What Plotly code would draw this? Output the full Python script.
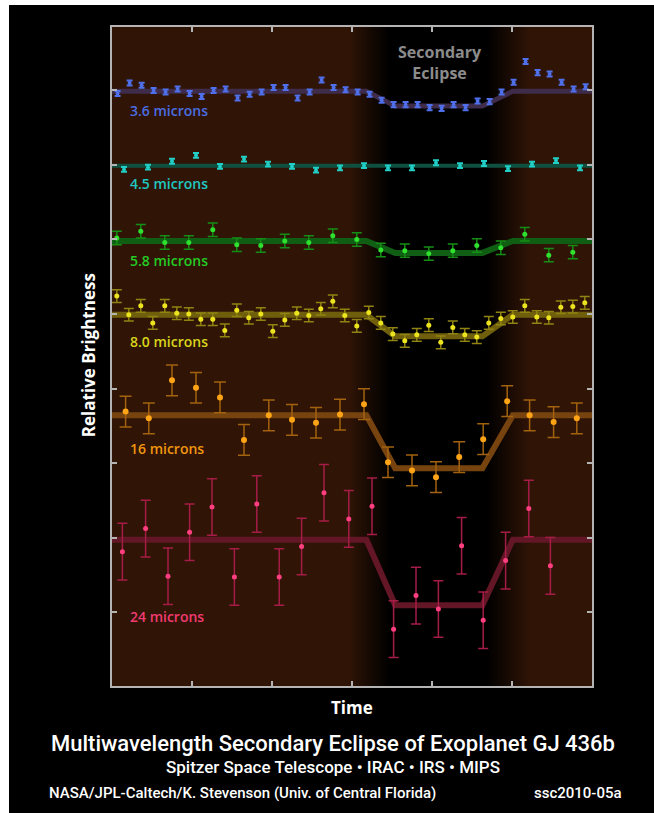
import plotly.graph_objects as go

# ---------------- data (relative brightness, series offset for display) ----------------
t36 = [0.7, 2.2, 3.7, 5.2, 6.7, 8.2, 9.7, 11.2, 12.7, 14.2, 15.7, 17.2, 18.7, 20.2, 21.7,
       23.2, 24.7, 26.2, 27.7, 29.2, 30.7, 32.2, 33.7, 35.2, 36.7, 38.2, 39.7, 41.2, 42.7,
       44.2, 45.7, 47.2, 48.7, 50.2, 51.7, 53.2, 54.7, 56.2, 57.7, 59.2]
y36 = [6.96, 7.10, 7.07, 7.00, 6.98, 7.02, 6.96, 6.92, 7.00, 7.02, 6.90, 6.95, 6.98, 7.04,
       7.04, 6.90, 6.98, 7.14, 7.04, 7.01, 6.98, 6.95, 6.87, 6.81, 6.81, 6.81, 6.77, 6.76,
       6.81, 6.77, 6.86, 6.85, 6.98, 7.11, 7.39, 7.24, 7.22, 7.11, 7.02, 7.05]

t45 = [1.5, 4.5, 7.5, 10.5, 13.5, 16.5, 19.5, 22.5, 25.5, 28.5, 31.5, 34.5, 37.5, 40.5,
       43.5, 46.5, 49.5, 52.5, 55.5, 58.5]
y45 = [5.94, 5.97, 6.05, 6.13, 5.98, 6.08, 6.01, 5.98, 5.93, 5.96, 5.99, 5.96, 5.96, 6.03,
       5.99, 6.02, 5.95, 6.01, 6.06, 5.96]

t58 = [0.6, 3.6, 6.6, 9.6, 12.6, 15.6, 18.6, 21.6, 24.6, 27.6, 30.6, 33.6, 36.6, 39.6,
       42.6, 45.6, 48.6, 51.6, 54.6, 57.6]
y58 = [5.02, 5.11, 4.96, 4.96, 5.13, 4.93, 4.92, 4.98, 4.96, 5.05, 5.00, 4.86, 4.85, 4.81,
       4.85, 4.92, 4.89, 5.07, 4.79, 4.83]

t80 = [0.6, 2.1, 3.6, 5.1, 6.6, 8.1, 9.6, 11.1, 12.6, 14.1, 15.6, 17.1, 18.6, 20.1, 21.6,
       23.1, 24.6, 26.1, 27.6, 29.1, 30.6, 32.1, 33.6, 35.1, 36.6, 38.1, 39.6, 41.1, 42.6,
       44.1, 45.6, 47.1, 48.6, 50.1, 51.6, 53.1, 54.6, 56.1, 57.6, 59.1]
y80 = [4.24, 3.99, 4.11, 3.88, 4.11, 4.01, 4.00, 3.93, 3.93, 3.78, 4.05, 3.95, 4.00, 3.77,
       3.92, 4.01, 3.98, 4.07, 4.17, 3.98, 3.84, 4.02, 3.88, 3.73, 3.64, 3.72, 3.85, 3.62,
       3.82, 3.72, 3.69, 3.88, 3.94, 3.96, 4.11, 3.96, 3.95, 4.09, 4.10, 4.15]

t16 = [1.7, 4.6, 7.5, 10.5, 13.5, 16.5, 19.6, 22.5, 25.5, 28.5, 31.5, 34.5, 37.5, 40.5,
       43.4, 46.4, 49.4, 52.2, 55.2, 58.1]
y16 = [2.69, 2.60, 3.11, 3.01, 2.88, 2.31, 2.64, 2.58, 2.54, 2.65, 2.79, 2.01, 1.90, 1.81,
       2.08, 2.32, 2.83, 2.64, 2.55, 2.60]

t24 = [1.3, 4.2, 7.0, 9.7, 12.5, 15.3, 18.1, 20.9, 23.7, 26.5, 29.6, 32.5, 35.2, 38.0,
       40.8, 43.7, 46.4, 49.2, 52.1, 54.8]
y24 = [0.81, 1.12, 0.48, 1.07, 1.41, 0.47, 1.45, 0.47, 0.88, 1.60, 1.25, 1.42, -0.23, 0.22,
       0.04, 0.89, -0.11, 0.69, 1.39, 0.62]

series_names = ["3.6 microns", "4.5 microns", "5.8 microns", "8.0 microns", "16 microns", "24 microns"]
errors = [0.034, 0.032, 0.09, 0.085, 0.206, 0.38]
baselines = [6.99, 5.99, 4.98, 3.99, 2.64, 0.97]
eclipse_levels = [6.79, 5.99, 4.82, 3.70, 1.93, 0.09]
contacts = [31.8, 35.4, 46.3, 50.1]          # ingress start/end, egress start/end
label_y = [6.73, 5.75, 4.72, 3.63, 2.20, -0.06]
time_range = [0, 60]
time_ticks = [10, 20, 30, 40, 50]
bright_ticks = [0, 1, 2, 3, 4, 5, 6, 7]
shade_x = [0, 29.5, 34.5, 46.8, 52.2, 60]     # eclipse shading stops
shade_z = [0, 0, 1, 1, 0, 0]

title_text = "Multiwavelength Secondary Eclipse of Exoplanet GJ 436b"
subtitle_text = "Spitzer Space Telescope • IRAC • IRS • MIPS"
credit_text = "NASA/JPL-Caltech/K. Stevenson (Univ. of Central Florida)"
id_text = "ssc2010-05a"

# ---------------- styles ----------------
marker_colors = ["#4f70ea", "#22cfc6", "#2fe02f", "#ece41e", "#ffa416", "#ff3f80"]
bar_colors = ["#4f70ea", "#22cfc6", "#158e15", "#8f8412", "#a2620e", "#a51d47"]
line_colors = ["#3e2c4a", "#0f5140", "#0f5e13", "#6f5f0c", "#774410", "#621626"]
label_colors = ["#4a6ee2", "#1fc8c0", "#24cc24", "#d8d41c", "#f0960f", "#f03a70"]
line_widths = [5, 4, 6, 6, 6, 6]
marker_sizes = [4, 4, 5, 5, 6, 5]
bar_widths = [3, 3, 5, 5, 6, 5]
bar_thick = [2, 2, 1.5, 1.5, 1.5, 1.5]

BG = "#301406"
FRAME = "#b4b4b4"

times = [t36, t45, t58, t80, t16, t24]
values = [y36, y45, y58, y80, y16, y24]

fig = go.Figure()

# eclipse shading background
fig.add_trace(go.Heatmap(
    x=shade_x, y=[-1.5, 8.5], z=[shade_z, shade_z], zsmooth="best",
    colorscale=[[0, BG], [1, "#000000"]], showscale=False, hoverinfo="skip",
))

for i in range(6):
    b, e = baselines[i], eclipse_levels[i]
    fig.add_trace(go.Scatter(
        x=[time_range[0], contacts[0], contacts[1], contacts[2], contacts[3], time_range[1]],
        y=[b, b, e, e, b, b], mode="lines",
        line=dict(color=line_colors[i], width=line_widths[i]),
        hoverinfo="skip", showlegend=False,
    ))

for i in range(6):
    fig.add_trace(go.Scatter(
        x=times[i], y=values[i], mode="markers",
        marker=dict(color=marker_colors[i], size=marker_sizes[i]),
        error_y=dict(type="constant", value=errors[i], color=bar_colors[i],
                     thickness=bar_thick[i], width=bar_widths[i]),
        showlegend=False, name=series_names[i],
    ))

label_font = dict(family="Open Sans", size=14, weight=600)
for i in range(6):
    fig.add_annotation(x=2.0, y=label_y[i], xref="x", yref="y", text=series_names[i],
                       showarrow=False, xanchor="left", yanchor="middle",
                       font=dict(label_font, color=label_colors[i]))

fig.add_annotation(x=41, y=7.38, xref="x", yref="y", text="Secondary<br>Eclipse",
                   showarrow=False, xanchor="center", yanchor="middle",
                   font=dict(family="Open Sans", size=16, weight=700, color="#8c8c8c"))

# axis titles
fig.add_annotation(x=0.5, y=-0.032, xref="paper", yref="paper", text="Time",
                   showarrow=False, xanchor="center", yanchor="middle",
                   font=dict(family="Open Sans", size=17, weight=700, color="white"))
fig.add_annotation(x=-0.05, y=0.502, xref="paper", yref="paper", text="Relative Brightness",
                   showarrow=False, textangle=-90, xanchor="center", yanchor="middle",
                   font=dict(family="Open Sans", size=17, weight=700, color="white"))

# title + subtitle as one two-line text
fig.add_annotation(x=0.46, y=-0.1035, xref="paper", yref="paper",
                   text=("<span style='font-size:22px'>" + title_text + "</span><br>"
                         "<span style='font-size:17px'>" + subtitle_text + "</span>"),
                   showarrow=False, xanchor="center", yanchor="middle",
                   font=dict(family="Roboto", size=17, weight=500, color="white"))
fig.add_annotation(x=(47 - 112) / 480, y=-0.163, xref="paper", yref="paper",
                   text=credit_text,
                   showarrow=False, xanchor="left", yanchor="middle",
                   font=dict(family="Roboto", size=15, weight=500, color="white"))
fig.add_annotation(x=(624 - 112) / 480, y=-0.163, xref="paper", yref="paper",
                   text=id_text,
                   showarrow=False, xanchor="right", yanchor="middle",
                   font=dict(family="Roboto", size=15, weight=500, color="white"))

# white page border strips (left and top)
fig.add_shape(type="rect", xref="paper", yref="paper", x0=-112 / 480, x1=(9 - 112) / 480,
              y0=-127 / 659, y1=686 / 659, fillcolor="white", line_width=0, layer="above")
fig.add_shape(type="rect", xref="paper", yref="paper", x0=-112 / 480, x1=542 / 480,
              y0=681 / 659, y1=686 / 659, fillcolor="white", line_width=0, layer="above")

axis_common = dict(showgrid=False, zeroline=False, showticklabels=False,
                   showline=True, linecolor=FRAME, linewidth=2, mirror="ticks",
                   ticks="inside", ticklen=5, tickwidth=2, tickcolor=FRAME)
fig.update_xaxes(range=time_range, tickvals=time_ticks, **axis_common)
fig.update_yaxes(range=[-0.993, 7.852], tickvals=bright_ticks, **axis_common)

fig.update_layout(
    width=654, height=813,
    margin=dict(l=112, r=62, t=27, b=127),
    paper_bgcolor="black", plot_bgcolor=BG,
    showlegend=False,
)

fig.write_html("out.html", config={"displayModeBar": False},
               post_script="document.body.style.margin='0';")
